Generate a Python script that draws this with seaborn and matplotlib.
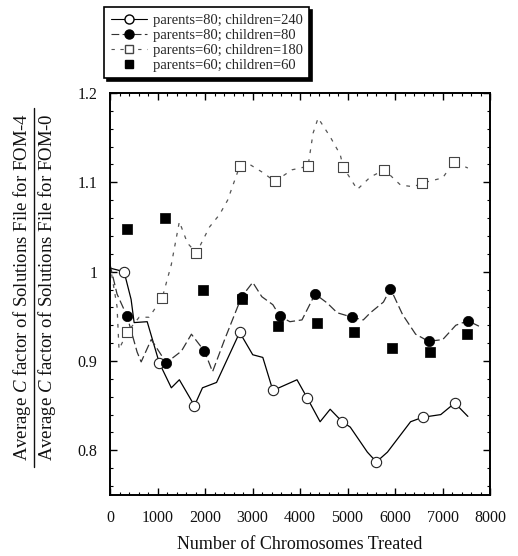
import matplotlib
matplotlib.use("Agg")
import numpy as np
import pandas as pd
import seaborn as sns
import matplotlib.pyplot as plt
from matplotlib.lines import Line2D
from matplotlib.ticker import MultipleLocator

# ---------------- data ----------------
# parents=80; children=240  (solid line, open circles)
a_line_x = [0, 296, 444, 508, 783, 1037, 1291, 1460, 1778, 1947, 2243, 2730, 3005, 3217,
            3429, 3937, 4148, 4423, 4635, 4889, 5058, 5418, 5608, 5841, 6328, 6582, 6963,
            7259, 7534]
a_line_y = [1.004, 1.000, 0.969, 0.943, 0.944, 0.898, 0.870, 0.879, 0.850, 0.870, 0.876,
            0.932, 0.907, 0.904, 0.867, 0.879, 0.859, 0.832, 0.846, 0.832, 0.826, 0.798,
            0.787, 0.798, 0.832, 0.837, 0.840, 0.853, 0.838]
a_mark_x = [296, 1037, 1778, 2730, 3429, 4148, 4889, 5608, 6582, 7259]
a_mark_y = [1.000, 0.898, 0.850, 0.932, 0.867, 0.859, 0.832, 0.787, 0.837, 0.853]

# parents=80; children=80  (dashed line, filled circles)
b_line_x = [0, 148, 360, 571, 656, 868, 1185, 1503, 1714, 1989, 2159, 2413, 2772, 3005,
            3196, 3429, 3577, 3788, 4042, 4317, 4571, 4783, 5100, 5333, 5481, 5757, 5905,
            6159, 6434, 6709, 7005, 7280, 7534, 7767]
b_line_y = [1.008, 0.975, 0.950, 0.910, 0.899, 0.924, 0.898, 0.911, 0.930, 0.911, 0.888,
            0.924, 0.972, 0.988, 0.972, 0.963, 0.950, 0.944, 0.946, 0.975, 0.965, 0.954,
            0.949, 0.946, 0.954, 0.966, 0.981, 0.952, 0.930, 0.922, 0.924, 0.940, 0.945,
            0.939]
b_mark_x = [360, 1185, 1989, 2772, 3577, 4317, 5100, 5905, 6709, 7534]
b_mark_y = [0.950, 0.898, 0.911, 0.972, 0.950, 0.975, 0.949, 0.981, 0.922, 0.945]

# parents=60; children=180  (short-dashed line, open squares)
c_line_x = [0, 148, 190, 360, 614, 825, 1101, 1291, 1460, 1630, 1820, 2095, 2307, 2476,
            2730, 2942, 3217, 3471, 3831, 4169, 4275, 4381, 4635, 4847, 4910, 5206, 5481,
            5778, 6116, 6392, 6561, 7005, 7238, 7534]
c_line_y = [1.008, 0.961, 0.913, 0.932, 0.949, 0.949, 0.971, 1.008, 1.056, 1.032, 1.021,
            1.050, 1.064, 1.080, 1.118, 1.120, 1.111, 1.101, 1.114, 1.118, 1.155, 1.172,
            1.151, 1.131, 1.117, 1.092, 1.106, 1.114, 1.097, 1.095, 1.099, 1.105, 1.123,
            1.116]
c_mark_x = [360, 1101, 1820, 2730, 3471, 4169, 4910, 5778, 6561, 7238]
c_mark_y = [0.932, 0.971, 1.021, 1.118, 1.101, 1.118, 1.117, 1.114, 1.099, 1.123]

# parents=60; children=60  (filled squares)
d_mark_x = [360, 1164, 1968, 2772, 3534, 4360, 5143, 5947, 6730, 7513]
d_mark_y = [1.048, 1.060, 0.979, 0.969, 0.939, 0.943, 0.933, 0.914, 0.910, 0.930]

labels = ["parents=80; children=240", "parents=80; children=80",
          "parents=60; children=180", "parents=60; children=60"]
x_ticks = [0, 1000, 2000, 3000, 4000, 5000, 6000, 7000, 8000]
y_ticks = [0.8, 0.9, 1.0, 1.1, 1.2]
y_tick_labels = ["0.8", "0.9", "1", "1.1", "1.2"]
xlabel = "Number of Chromosomes Treated"
ylabel_top = "Average $C$ factor of Solutions File for FOM-4"
ylabel_bot = "Average $C$ factor of Solutions File for FOM-0"

# ---------------- style ----------------
sns.set_theme(style="ticks")
plt.rcParams["font.family"] = ["Liberation Serif", "DejaVu Serif"]
plt.rcParams["mathtext.fontset"] = "custom"
plt.rcParams["mathtext.rm"] = "Liberation Serif"
plt.rcParams["mathtext.it"] = "Liberation Serif:italic"

W, H = 518, 556
fig = plt.figure(figsize=(W / 100, H / 100), dpi=100)
ax = fig.add_axes([110 / W, 1 - 495 / H, 380 / W, 402 / H])

dash_b = (0, (7, 3))
dash_c = (0, (3, 5))

sns.lineplot(x=a_line_x, y=a_line_y, ax=ax, color="black", lw=0.9,
             estimator=None, sort=False, zorder=2)
sns.lineplot(x=b_line_x, y=b_line_y, ax=ax, color="#333333", lw=0.9,
             estimator=None, sort=False, linestyle=dash_b, zorder=2)
sns.lineplot(x=c_line_x, y=c_line_y, ax=ax, color="#555555", lw=0.9,
             estimator=None, sort=False, linestyle=dash_c, zorder=2)

sns.scatterplot(x=a_mark_x, y=a_mark_y, ax=ax, marker="o", s=55,
                facecolor="white", edgecolor="#222222", linewidth=0.8, zorder=4)
sns.scatterplot(x=b_mark_x, y=b_mark_y, ax=ax, marker="o", s=55,
                color="black", edgecolor="black", linewidth=0.5, zorder=4)
sns.scatterplot(x=c_mark_x, y=c_mark_y, ax=ax, marker="s", s=50,
                facecolor="white", edgecolor="#444444", linewidth=0.8, zorder=4)
sns.scatterplot(x=d_mark_x, y=d_mark_y, ax=ax, marker="s", s=50,
                color="black", edgecolor="black", linewidth=0.5, zorder=4)

ax.set_xlim(0, 8000)
ax.set_ylim(0.75, 1.2)
ax.set_xticks(x_ticks)
ax.set_xticklabels([str(t) for t in x_ticks])
ax.set_yticks(y_ticks)
ax.set_yticklabels(y_tick_labels)
ax.xaxis.set_minor_locator(MultipleLocator(200))
ax.yaxis.set_minor_locator(MultipleLocator(0.02))
ax.tick_params(which="both", direction="in", top=True, right=True, color="black")
ax.tick_params(which="major", length=5, width=1.0, labelsize=11.5, labelcolor="#111111")
ax.tick_params(axis="x", which="major", pad=11)
ax.tick_params(axis="y", which="major", pad=9)
ax.tick_params(which="minor", length=2.5, width=0.8)
for sp in ax.spines.values():
    sp.set_linewidth(1.4)
    sp.set_color("black")
ax.set_xlabel(xlabel, fontsize=13, labelpad=7, color="#111111")
ax.set_ylabel("")

# fraction-style y label
yc = 1 - 287 / H
fig.text(22 / W, yc, ylabel_top, rotation=90, ha="center", va="center",
         fontsize=13.5, color="#111111")
fig.text(47 / W, yc, ylabel_bot, rotation=90, ha="center", va="center",
         fontsize=13.5, color="#111111")
fig.add_artist(Line2D([34 / W, 34 / W], [1 - 108 / H, 1 - 467 / H],
                      transform=fig.transFigure, color="#111111", lw=1.0))

# legend
handles = [
    Line2D([], [], color="black", lw=0.8, marker="o", ms=6.5, mfc="white", mec="black"),
    Line2D([], [], color="#333333", lw=0.8, linestyle=dash_b, marker="o", ms=6.5,
           mfc="black", mec="black"),
    Line2D([], [], color="#555555", lw=0.8, linestyle=dash_c, marker="s", ms=6,
           mfc="white", mec="#444444"),
    Line2D([], [], color="black", lw=0, marker="s", ms=6, mfc="black", mec="black"),
]
leg = fig.legend(handles, labels, loc="upper left",
                 bbox_to_anchor=(104 / W, 1 - 7 / H), frameon=True, fancybox=False,
                 edgecolor="black", shadow={"color": "black", "alpha": 1},
                 fontsize=10.5, handlelength=2.5, labelspacing=0.12, borderpad=0.45,
                 handletextpad=0.4, borderaxespad=0)
leg.get_frame().set_linewidth(1.2)

fig.savefig("out.png", dpi=100, facecolor="white")
